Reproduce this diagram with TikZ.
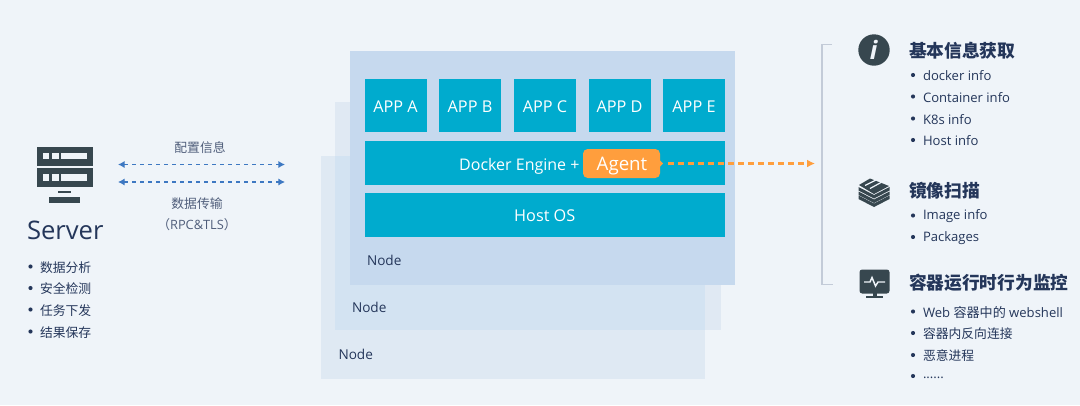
\documentclass[tikz,border=0pt]{standalone}
\usepackage{fontspec}
\setmainfont{Open Sans}
\newfontfamily\cjk{Noto Sans CJK SC}
\usetikzlibrary{arrows.meta}
\definecolor{bg}{HTML}{EFF4F9}
\definecolor{nodeA}{HTML}{C6D9EE}
\definecolor{nodeB}{HTML}{D3E3F2}
\definecolor{nodeC}{HTML}{DFE9F3}
\definecolor{midedge}{HTML}{E0E9F3}
\definecolor{teal}{HTML}{00ABCE}
\definecolor{orangeA}{HTML}{FF9E3D}
\definecolor{ink}{HTML}{24365A}
\definecolor{icon}{HTML}{37474F}
\definecolor{brk}{HTML}{C3CBD8}
\definecolor{lnk}{HTML}{3D78C2}
\tikzset{
 x=0.75pt,y=-0.75pt,
 box/.style={fill=teal,draw=none,text=white,inner sep=0,outer sep=0,text height=10.4pt,text depth=0pt,font=\fontsize{12.2}{14}\selectfont},
 txt/.style={text=ink,inner sep=0,outer sep=0,anchor=west,font=\fontsize{10}{12}\selectfont},
 nodelbl/.style={txt,font=\fontsize{10.2}{12}\selectfont},
 small/.style={txt,font=\fontsize{9.8}{12}\selectfont\color{ink!85}},
 smallc/.style={txt,font=\fontsize{9.6}{12}\selectfont\cjk\color{ink!85}},
 head/.style={txt,font=\fontsize{13.3}{15}\selectfont\cjk\bfseries},
 mid/.style={text=ink!80,inner sep=0,outer sep=0,font=\fontsize{9.6}{12}\selectfont\cjk},
 dot/.style={circle,fill=ink,inner sep=0,minimum size=3.1pt,outer sep=0},
 link/.style={draw=lnk,line width=1.4pt,dash pattern=on 3.3pt off 2.7pt,{Latex[length=5pt,width=5.5pt]}-{Latex[length=5pt,width=5.5pt]}},
 agentlink/.style={draw=orangeA,line width=1.7pt,dash pattern=on 4.5pt off 3pt,-{Latex[length=6pt,width=6pt]}},
 ico/.style={fill=icon,draw=none},
 icw/.style={fill=bg,draw=none},
}
\newcommand{\bx}[5]{\node[box,minimum width={(#3-#2)*0.75pt},minimum height={(#5-#4)*0.75pt}] (#1) at ({(#2+#3)/2},{(#4+#5)/2})}
\begin{document}
\begin{tikzpicture}
\useasboundingbox (0,0) rectangle (1080,405);
\fill[bg] (0,0) rectangle (1080,405);
% stacked node plates
\fill[nodeC] (321,156) rectangle (705,379);
\fill[midedge] (335,102) rectangle (721,330);
\fill[nodeB] (335,156) rectangle (705,330);
\fill[nodeA] (350,50.5) rectangle (735,285);
% apps
\bx{a}{364.5}{426.5}{79}{132} {APP A};
\bx{b}{439}{501}{79}{132} {APP B};
\bx{c}{514}{576}{79}{132} {APP C};
\bx{d}{588.5}{650.5}{79}{132} {APP D};
\bx{e}{663}{725}{79}{132} {APP E};
\bx{docker}{364.5}{725}{141}{184.5} {};
\bx{host}{364.5}{725}{193}{237} {Host OS};
\node[box,fill=none,anchor=east,font=\fontsize{12}{14}\selectfont] (dockertxt) at (579.5,163.5) {Docker Engine +};
\node[fill=orangeA,rounded corners=3.5pt,inner sep=0,outer sep=0,minimum width=57.75pt,minimum height=21.75pt] (agent) at (621.5,163.5) {};
\node[inner sep=0,text=white,font=\fontsize{14}{17}\selectfont] (agenttxt) at (622,166) {Agent};
\fill[orangeA] (660,160.5) -- (663,163.5) -- (660,166.5) -- cycle;
\coordinate (agentout) at (815,163.5);
\draw[agentlink] (agent.east) ++(6pt,0) -- (agentout);
% node labels
\node[nodelbl] (n1) at (367,260) {Node};
\node[nodelbl] (n2) at (352,307.5) {Node};
\node[nodelbl] (n3) at (338.5,354.5) {Node};
% bracket
\draw[brk,line width=1.1pt] (832,44.5) -- (822,44.5) -- (822,284.5) -- (833,284.5);
% server icon
\fill[ico] (36.7,146.7) rectangle (92.7,165.7);
\fill[ico] (36.7,168.3) rectangle (92.7,187);
\foreach \yy in {152.7,174.2}{
 \fill[icw] (42.7,\yy) rectangle (49,\yy+6.4);
 \fill[icw] (52,\yy) rectangle (58.6,\yy+6.4);
 \fill[icw] (61.3,\yy) rectangle (87,\yy+6.4);
}
\fill[ico] (58,190.5) rectangle (71,193.2);
\fill[ico] (48.7,196.7) rectangle (80.3,203);
\node[txt,font=\fontsize{19.2}{24}\selectfont] (server) at (27,230) {Server};
% server list
\foreach \yy/\tt in {266.5/数据分析,288/安全检测,309.5/任务下发,331.5/结果保存}{
 \node[dot] at (30.5,\yy) {};
 \node[smallc] at (40,\yy+1) {\tt};
}
% links
\coordinate (l1a) at (118,164.5); \coordinate (l1b) at (285,164.5);
\coordinate (l2a) at (118,182); \coordinate (l2b) at (285,182);
\draw[link] (l1a) -- (l1b);
\draw[link] (l2a) -- (l2b);
\node[mid] (t1) at (200,148) {配置信息};
\node[mid] (t2) at (197,203.5) {数据传输};
\node[mid,font=\fontsize{9.6}{12}\selectfont] (t3) at (197,224.5) {{\cjk（}RPC\&TLS{\cjk）}};
% info icon
\fill[ico] (874,50) circle (15.7);
\node[text=bg,inner sep=0,font=\fontsize{19}{20}\selectfont\bfseries\itshape] (iglyph) at (873.5,50) {i};
% layers icon
\begin{scope}[shift={(874,191)}]
 \foreach \dy in {7.5,3.5,-1}{
 \fill[ico] (-15.5,\dy-3) -- (0,\dy+5) -- (15.5,\dy-3) -- (15.5,\dy+0.5) -- (0,\dy+8.5) -- (-15.5,\dy+0.5) -- cycle;
 }
 \fill[ico] (-15,-6) -- (-4,-12.5) -- (15,-5) -- (0,3) -- cycle;
 \draw[bg,line width=.9pt] (-9,-5.5) -- (2,-11);
 \draw[bg,line width=.9pt] (-4,-2.5) -- (7,-8.5);
\end{scope}
% monitor icon
\fill[ico,rounded corners=2pt] (859.5,269.5) rectangle (889.5,293.5);
\fill[ico] (872.5,293) rectangle (876.5,297);
\fill[ico] (866,296) rectangle (883,298.2);
\draw[bg,line width=1.1pt] (864,282) -- (870,282) -- (872,277.5) -- (875.5,286) -- (878,282) -- (885,282);
% right column
\node[head] (h1) at (909,50.5) {基本信息获取};
\node[head] (h2) at (909,190.5) {镜像扫描};
\node[head] (h3) at (909,283) {容器运行时行为监控};
\foreach \yy/\tt in {75/docker info,96.5/Container info,118.5/K8s info,140/Host info,215.5/Image info,237/Packages}{
 \node[dot] at (913,\yy) {};
 \node[small] at (923,\yy+.8) {\tt};
}
\node[dot] at (913,311.5) {};
\node[small] at (923,312.5) {Web {\cjk 容器中的} webshell};
\node[dot] at (913,333) {};
\node[smallc] at (923,334) {容器内反向连接};
\node[dot] at (913,355) {};
\node[smallc] at (923,356) {恶意进程};
\node[dot] at (913,376) {};
\node[small] at (923,378) {......};
\end{tikzpicture}
\end{document}
